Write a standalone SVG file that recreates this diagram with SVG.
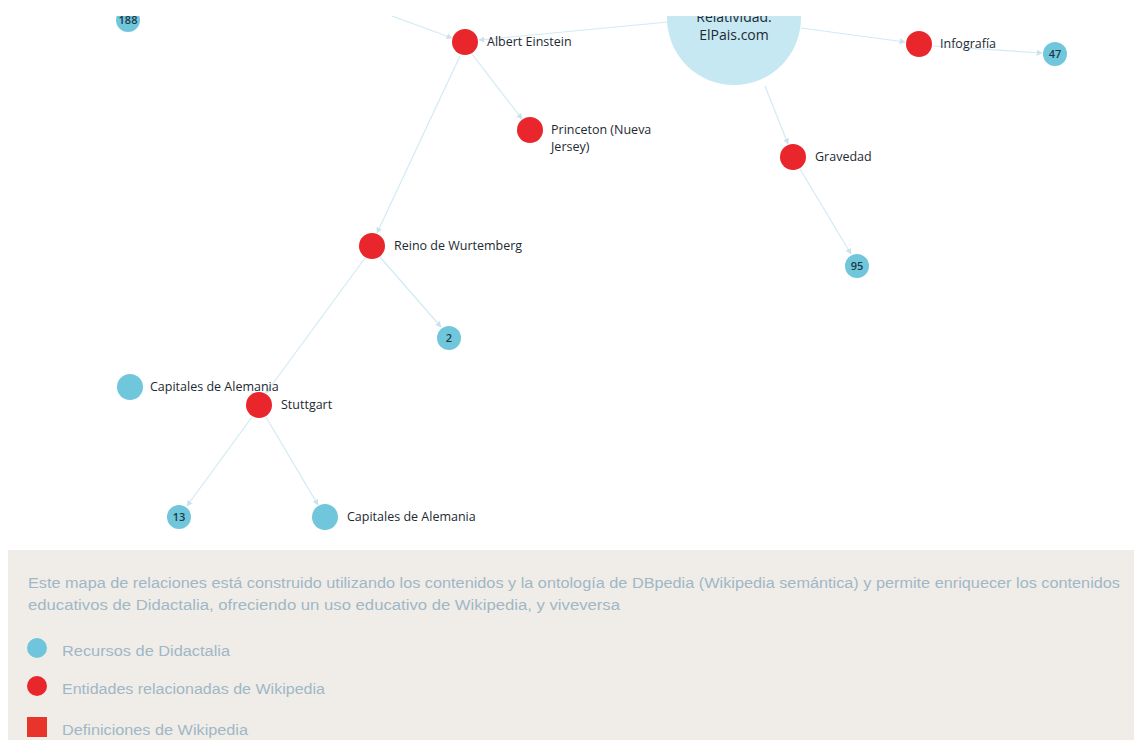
<svg xmlns="http://www.w3.org/2000/svg" width="1134" height="740" viewBox="0 0 1134 740">
<defs>
<style>
.edge{stroke:#d3eaf4;stroke-width:1.2;fill:none}
.res{fill:#70c7dc}
.ent{fill:#e8262b}
.big{fill:#c6e8f2}
.lbl{font-family:"Open Sans","Noto Sans",sans-serif;font-size:12.5px;font-weight:500;fill:#1d2a33}
.num{font-family:"Open Sans","Noto Sans",sans-serif;font-size:11px;font-weight:600;fill:#1d3a44;text-anchor:middle}
.info{font-family:"Liberation Sans",Arial,sans-serif;font-size:14px;fill:#9fb7c6}
</style>
<marker id="arr" viewBox="0 0 10 10" refX="9" refY="5" markerWidth="5" markerHeight="5" orient="auto">
<path d="M0,0 L10,5 L0,10 z" fill="#c9e2ee"/>
</marker>
<clipPath id="graphclip"><rect x="0" y="16" width="1134" height="534"/></clipPath>
</defs>
<rect x="0" y="0" width="1134" height="740" fill="#ffffff"/>
<g clip-path="url(#graphclip)">
<g id="connectors">
<line class="edge" x1="392" y1="16" x2="452" y2="38" marker-end="url(#arr)"/>
<line class="edge" x1="668" y1="22" x2="479" y2="40" marker-end="url(#arr)"/>
<line class="edge" x1="801" y1="28" x2="905" y2="42" marker-end="url(#arr)"/>
<line class="edge" x1="933" y1="46" x2="1042" y2="53" marker-end="url(#arr)"/>
<line class="edge" x1="765" y1="86" x2="788" y2="144" marker-end="url(#arr)"/>
<line class="edge" x1="800" y1="169" x2="851" y2="254" marker-end="url(#arr)"/>
<line class="edge" x1="472" y1="54" x2="522" y2="119" marker-end="url(#arr)"/>
<line class="edge" x1="460" y1="56" x2="377" y2="233" marker-end="url(#arr)"/>
<line class="edge" x1="380" y1="257" x2="441" y2="327" marker-end="url(#arr)"/>
<line class="edge" x1="365" y1="258" x2="266" y2="393" marker-end="url(#arr)"/>
<line class="edge" x1="252" y1="417" x2="187" y2="506" marker-end="url(#arr)"/>
<line class="edge" x1="266" y1="417" x2="318" y2="505" marker-end="url(#arr)"/>
</g>
<g id="n188"><circle class="res" cx="128" cy="20" r="12"/><text class="num" x="128" y="24">188</text></g>
<g id="nBig"><circle class="big" cx="734" cy="18" r="67"/>
<text x="734" y="22" text-anchor="middle" font-family="Open Sans,Noto Sans,sans-serif" font-size="14" fill="#1d2a33">Relatividad.</text>
<text x="734" y="40" text-anchor="middle" font-family="Open Sans,Noto Sans,sans-serif" font-size="14" fill="#1d2a33">ElPais.com</text></g>
<g id="nEinstein"><circle class="ent" cx="465" cy="42" r="13"/><text class="lbl" x="487" y="46">Albert Einstein</text></g>
<g id="nInfografia"><circle class="ent" cx="919" cy="44" r="13"/><text class="lbl" x="940" y="48">Infografía</text></g>
<g id="n47"><circle class="res" cx="1055" cy="54" r="12"/><text class="num" x="1055" y="58">47</text></g>
<g id="nPrinceton"><circle class="ent" cx="530" cy="130" r="13"/><text class="lbl" x="551" y="134">Princeton (Nueva</text><text class="lbl" x="551" y="151">Jersey)</text></g>
<g id="nGravedad"><circle class="ent" cx="793" cy="157" r="13"/><text class="lbl" x="815" y="161">Gravedad</text></g>
<g id="n95"><circle class="res" cx="857" cy="266" r="12"/><text class="num" x="857" y="270">95</text></g>
<g id="nReino"><circle class="ent" cx="372" cy="246" r="13"/><text class="lbl" x="394" y="250">Reino de Wurtemberg</text></g>
<g id="n2"><circle class="res" cx="449" cy="338" r="12"/><text class="num" x="449" y="342">2</text></g>
<g id="nCapitales1"><circle class="res" cx="130" cy="387" r="13"/><text class="lbl" x="150" y="391">Capitales de Alemania</text></g>
<g id="nStuttgart"><circle class="ent" cx="259" cy="405" r="13"/><text class="lbl" x="281" y="409">Stuttgart</text></g>
<g id="n13"><circle class="res" cx="179" cy="517" r="12"/><text class="num" x="179" y="521">13</text></g>
<g id="nCapitales2"><circle class="res" cx="325" cy="517" r="13"/><text class="lbl" x="347" y="521">Capitales de Alemania</text></g>
</g>
<g id="infopanel">
<rect x="8" y="550" width="1126" height="190" fill="#f0ede8"/>
<text class="info" x="28" y="588" textLength="1092" lengthAdjust="spacingAndGlyphs">Este mapa de relaciones está construido utilizando los contenidos y la ontología de DBpedia (Wikipedia semántica) y permite enriquecer los contenidos</text>
<text class="info" x="28" y="610" textLength="592" lengthAdjust="spacingAndGlyphs">educativos de Didactalia, ofreciendo un uso educativo de Wikipedia, y viveversa</text>
<circle cx="37" cy="648" r="10" fill="#6fc6dc"/>
<text class="info" x="62" y="656" textLength="168" lengthAdjust="spacingAndGlyphs">Recursos de Didactalia</text>
<circle cx="37" cy="686" r="10" fill="#e8262b"/>
<text class="info" x="62" y="694" textLength="263" lengthAdjust="spacingAndGlyphs">Entidades relacionadas de Wikipedia</text>
<rect x="27" y="717" width="20" height="20" fill="#e8352c"/>
<text class="info" x="62" y="735" textLength="186" lengthAdjust="spacingAndGlyphs">Definiciones de Wikipedia</text>
</g>
</svg>
